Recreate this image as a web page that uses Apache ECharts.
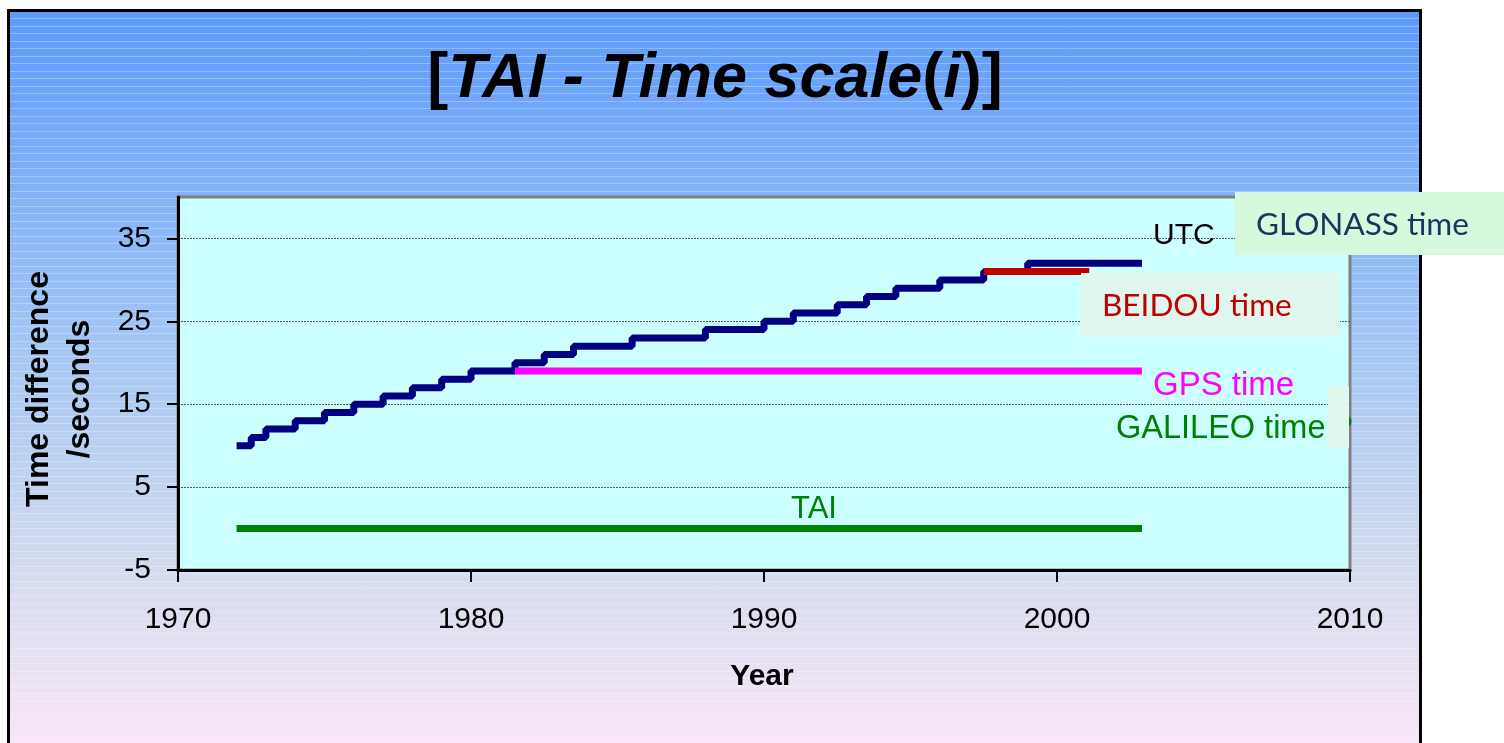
<!DOCTYPE html>
<html>
<head>
<meta charset="utf-8">
<script src="https://cdn.jsdelivr.net/npm/echarts@6/dist/echarts.min.js"></script>
<style>
html,body{margin:0;padding:0;background:#ffffff;}
#chart{width:1504px;height:743px;}
</style>
</head>
<body>
<div id="chart"></div>
<script>
// ---- data ----
const utcYears  = [1972, 1972.5, 1973, 1974, 1975, 1976, 1977, 1978, 1979, 1980, 1981.5, 1982.5, 1983.5, 1985.5, 1988, 1990, 1991, 1992.5, 1993.5, 1994.5, 1996, 1997.5, 1999, 2002.9];
const utcValues = [10, 11, 12, 13, 14, 15, 16, 17, 18, 19, 20, 21, 22, 23, 24, 25, 26, 27, 28, 29, 30, 31, 32, 32];
const gpsYears = [1981.5, 2002.9];
const gpsValues = [19, 19];
const beidouYears = [1997.5, 2001.1];
const beidouValues = [31, 31];
const taiYears = [1972, 2002.9];
const taiValues = [0, 0];
const yTickLabels = [-5, 5, 15, 25, 35];
const xTickLabels = [1970, 1980, 1990, 2000, 2010];

const pairs = (xs, ys) => xs.map((x, i) => [x, ys[i]]);
const ARIAL = "'Liberation Sans', Arial, sans-serif";
const CAL = "Lato, 'Open Sans', sans-serif";

const stripes = [];
for (let y = 18; y < 743; y += 7.5) {
  stripes.push({type: 'line', z: -90, silent: true,
    shape: {x1: 10, y1: Math.round(y) + 0.5, x2: 1419, y2: Math.round(y) + 0.5},
    style: {stroke: 'rgba(255,255,255,0.28)', lineWidth: 1}});
}

const chart = echarts.init(document.getElementById('chart'), null, {renderer: 'canvas'});
chart.setOption({
  animation: false,
  backgroundColor: '#ffffff',
  grid: {left: 178, right: 154, top: 197, bottom: 173, show: true,
    backgroundColor: '#ccffff', borderColor: '#808080', borderWidth: 3},
  xAxis: {
    type: 'value', min: 1970, max: 2010, interval: 10,
    axisLine: {show: true, onZero: false, lineStyle: {color: '#000', width: 3}},
    axisTick: {show: true, length: 12, lineStyle: {color: '#000', width: 2}},
    axisLabel: {color: '#000', fontFamily: ARIAL, fontSize: 30, margin: 35,
      customValues: xTickLabels, formatter: v => String(v)},
    splitLine: {show: false}
  },
  yAxis: {
    type: 'value', min: -5, max: 40, interval: 5,
    axisLine: {show: true, onZero: false, lineStyle: {color: '#000', width: 3}},
    axisTick: {show: true, length: 11, lineStyle: {color: '#000', width: 2},
      customValues: yTickLabels},
    axisLabel: {color: '#000', fontFamily: ARIAL, fontSize: 30, margin: 27,
      customValues: yTickLabels, formatter: v => String(v)},
    splitLine: {show: true, lineStyle: {color: '#555', width: 1, type: [2, 1]}}
  },
  series: [
    {name: 'UTC', type: 'line', step: 'end', showSymbol: false, z: 3,
      data: pairs(utcYears, utcValues), lineStyle: {color: '#000080', width: 7}},
    {name: 'GPS time', type: 'line', showSymbol: false, z: 4,
      data: pairs(gpsYears, gpsValues), lineStyle: {color: '#ff00ff', width: 7}},
    {name: 'BEIDOU time', type: 'line', showSymbol: false, z: 4,
      data: pairs(beidouYears, beidouValues), lineStyle: {color: '#c00000', width: 7}},
    {name: 'TAI', type: 'line', showSymbol: false, z: 4,
      data: pairs(taiYears, taiValues), lineStyle: {color: '#008000', width: 7}}
  ],
  graphic: [
    {type: 'rect', z: -100, silent: true,
      shape: {x: 8.5, y: 10.5, width: 1412, height: 736},
      style: {
        fill: new echarts.graphic.LinearGradient(0, 0, 0, 1, [
          {offset: 0, color: '#5b9afc'},
          {offset: 0.45, color: '#a3c6f4'},
          {offset: 0.75, color: '#d3dbee'},
          {offset: 1, color: '#fae6f8'}
        ]),
        stroke: '#000', lineWidth: 3}},
    ...stripes,
    // title
    {type: 'text', z: 100, x: 715, y: 80,
      style: {text: '{b|[}{i|TAI - Time scale}{b|(}{i|i}{b|)]}', align: 'center', verticalAlign: 'middle',
        rich: {
          b: {fontFamily: ARIAL, fontWeight: 'bold', fontSize: 63, fill: '#000'},
          i: {fontFamily: ARIAL, fontWeight: 'bold', fontStyle: 'italic', fontSize: 63, fill: '#000'}
        }}},
    // axis names
    {type: 'text', z: 100, x: 60, y: 389, rotation: Math.PI / 2,
      style: {text: 'Time difference\n/seconds', align: 'center', verticalAlign: 'middle',
        fontFamily: ARIAL, fontWeight: 'bold', fontSize: 32, lineHeight: 41, fill: '#000'}},
    {type: 'text', z: 100, x: 762, y: 677,
      style: {text: 'Year', align: 'center', verticalAlign: 'middle',
        fontFamily: ARIAL, fontWeight: 'bold', fontSize: 30, fill: '#000'}},
    // series labels
    {type: 'text', z: 100, x: 1153, y: 236,
      style: {text: 'UTC', align: 'left', verticalAlign: 'middle', fontFamily: ARIAL, fontSize: 30, fill: '#000'}},
    {type: 'rect', z: 100, shape: {x: 1235, y: 192, width: 269, height: 63}, style: {fill: '#d6f8dd'}},
    {type: 'text', z: 101, x: 1256, y: 225,
      style: {text: 'GLONASS time', align: 'left', verticalAlign: 'middle', fontFamily: CAL, fontSize: 31.5, fill: '#17365d'}},
    {type: 'rect', z: 100, shape: {x: 1081, y: 273, width: 259, height: 64}, style: {fill: '#e0f7ef'}},
    {type: 'text', z: 101, x: 1102, y: 306,
      style: {text: 'BEIDOU time', align: 'left', verticalAlign: 'middle', fontFamily: CAL, fontSize: 31.5, fill: '#c00000'}},
    {type: 'text', z: 100, x: 1153, y: 386,
      style: {text: 'GPS time', align: 'left', verticalAlign: 'middle', fontFamily: ARIAL, fontSize: 33, fill: '#ff00ff'}},
    {type: 'text', z: 100, x: 1116, y: 429,
      style: {text: 'GALILEO time ?', align: 'left', verticalAlign: 'middle', fontFamily: ARIAL, fontSize: 32.5, fill: '#008000'}},
    {type: 'rect', z: 101, shape: {x: 1328, y: 386, width: 21, height: 62}, style: {fill: '#e0f7ee'}},
    {type: 'text', z: 100, x: 814, y: 509,
      style: {text: 'TAI', align: 'center', verticalAlign: 'middle', fontFamily: ARIAL, fontSize: 31, fill: '#008000'}}
  ]
});
</script>
</body>
</html>
